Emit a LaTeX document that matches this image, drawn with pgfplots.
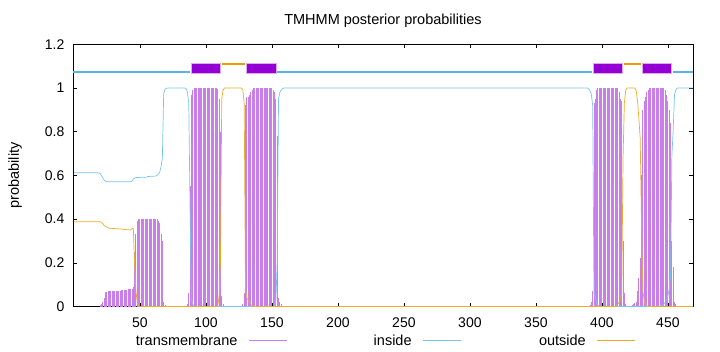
\documentclass[border=0pt]{standalone}
\usepackage{fontspec}
\setmainfont{Liberation Sans}
\usepackage{pgfplots}
\pgfplotsset{compat=1.18}
\definecolor{tmpurple}{HTML}{9400D3}
\definecolor{tmbar}{RGB}{202,126,234}
\definecolor{tmedge}{RGB}{222,170,242}
\definecolor{inblue}{HTML}{56B4E9}
\definecolor{inthin}{RGB}{120,196,238}
\definecolor{outorange}{HTML}{E69F00}
\definecolor{outthin}{RGB}{236,172,40}
\newcommand\fsz{\fontsize{14bp}{16bp}\selectfont}
\newcommand\fszt{\fontsize{14.5bp}{16bp}\selectfont}
\begin{document}
\begin{tikzpicture}
\begin{axis}[
  scale only axis, width=620bp, height=262.2bp,
  xmin=-0.7, xmax=469, ymin=0, ymax=1.2,
  xtick={50,100,...,450}, ytick={0,0.2,0.4,0.6,0.8,1,1.2},
  yticklabels={0,0.2,0.4,0.6,0.8,1,1.2},
  /pgf/number format/assume math mode=true,
  tick align=inside, major tick length=4bp,
  tick style={black, line width=0.5bp},
  axis line style={black, line width=0.8bp},
  every tick label/.append style={font=\fsz, inner sep=0pt},
  xticklabel style={anchor=base, yshift=-20.5bp},
  yticklabel style={anchor=east, xshift=-8.5bp},
  title={TMHMM posterior probabilities},
  every axis title/.style={at={(axis description cs:0.5,1.0755)}, anchor=base, font=\fszt},
  ylabel={probability},
  every axis y label/.style={at={(axis description cs:-0.0935,0.5)}, anchor=center, rotate=90, font=\fszt},
  legend image code/.code={\draw[#1] (0bp,0bp) -- (38bp,0bp);},
  legend style={at={(axis description cs:0.0955,-0.106)}, anchor=north west, draw=none, fill=none,
    inner sep=0pt, font=\fszt, legend columns=3,
    nodes={inner sep=0pt, text width=105bp, align=right},
    /tikz/every odd column/.append style={column sep=10.7bp},
    /tikz/every even column/.append style={column sep=19.7bp}},
  legend plot pos=right,
]
% transmembrane posterior (impulses)
\addplot[ycomb, tmbar, line width=1.0bp, forget plot] coordinates {
(20,0.005)(21,0.01)(22,0.02)(23,0.04)(24,0.065)(25,0.068)(26,0.07)(27,0.07)(28,0.07)(29,0.07)(30,0.07)
(31,0.072)(32,0.072)(33,0.072)(34,0.072)(35,0.073)(36,0.074)(37,0.075)(38,0.075)(39,0.075)(40,0.076)
(41,0.078)(42,0.079)(43,0.08)(44,0.078)(45,0.09)(46,0.25)(47,0.33)(48,0.39)(49,0.40)(50,0.40)
(51,0.40)(52,0.40)(53,0.40)(54,0.40)(55,0.40)(56,0.40)(57,0.40)(58,0.40)(59,0.40)(60,0.40)
(61,0.40)(62,0.40)(63,0.40)(64,0.39)(65,0.38)(66,0.33)(67,0.30)(68,0.02)(69,0.005)
(85,0.003)(86,0.01)(87,0.06)(88,0.55)(89,0.97)(90,0.99)
(91,1)(92,1)(93,1)(94,1)(95,1)(96,1)(97,1)(98,1)(99,1)(100,1)(101,1)(102,1)(103,1)(104,1)
(105,1)(106,1)(107,1)(108,1)(109,0.995)(110,0.95)(111,0.80)(112,0.05)(113,0.01)
(128,0.01)(129,0.06)(130,0.92)(131,0.96)(132,0.96)(133,0.97)(134,0.98)(135,0.99)
(136,1)(137,1)(138,1)(139,1)(140,1)(141,1)(142,1)(143,1)(144,1)(145,1)(146,1)(147,1)(148,1)
(149,1)(150,1)(151,0.99)(152,0.98)(153,0.95)(154,0.78)(155,0.04)(156,0.02)(157,0.01)
(391,0.005)(392,0.02)(393,0.07)(394,0.93)(395,0.95)(396,0.99)
(397,1)(398,1)(399,1)(400,1)(401,1)(402,1)(403,1)(404,1)(405,1)(406,1)(407,1)(408,1)(409,1)
(410,1)(411,1)(412,1)(413,0.98)(414,0.95)(415,0.94)(416,0.30)(417,0.06)(418,0.01)
(423,0.005)(424,0.01)(425,0.015)(426,0.02)(427,0.07)(428,0.13)(429,0.22)(430,0.60)(431,0.90)
(432,0.94)(433,0.96)(434,0.98)(435,0.99)(436,1)(437,1)(438,1)(439,1)(440,1)(441,1)(442,1)
(443,1)(444,1)(445,1)(446,1)(447,1)(448,0.99)(449,0.97)(450,0.94)(451,0.90)(452,0.84)
(453,0.30)(454,0.18)(455,0.02)(456,0.01)
};
% inside posterior
\addplot[inthin, line width=0.7bp, forget plot] coordinates {
(0,0.612)(18,0.612)(19,0.611)(20,0.607)(21,0.598)(22,0.587)(23,0.578)(24,0.573)(25,0.571)
(43,0.571)(44,0.574)(45,0.583)(46,0.588)(47,0.590)(55,0.592)(56,0.595)(62,0.597)(63,0.600)
(64,0.606)(65,0.615)(66,0.64)(67,0.68)(68,0.975)(69,0.993)(70,0.998)(71,1.0)(84,1.0)(85,0.997)
(86,0.98)(87,0.93)(88,0.44)(89,0.03)(90,0.01)(91,0.003)(92,0)(152,0)(153,0.03)(154,0.2)
(155,0.95)(156,0.98)(157,0.99)(158,0.997)(159,1.0)(389,1.0)(390,0.995)(391,0.988)(392,0.97)
(393,0.92)(394,0.06)(395,0.04)(396,0.015)(397,0.005)(398,0)(444,0)(445,0.005)(446,0.008)
(447,0.012)(448,0.02)(449,0.03)(450,0.05)(451,0.08)(452,0.14)(453,0.69)(454,0.81)(455,0.97)
(456,0.99)(457,1.0)(469,1.0)
};
% outside posterior
\addplot[outthin, line width=0.7bp, forget plot] coordinates {
(0,0.388)(20,0.388)(21,0.385)(22,0.378)(23,0.370)(24,0.366)(25,0.363)(27,0.358)(35,0.355)
(43,0.350)(44,0.356)(45,0.358)(46,0.19)(47,0.07)(48,0.015)(49,0.004)(50,0)(109,0)(110,0.05)
(111,0.2)(112,0.95)(113,0.99)(114,1.0)(127,1.0)(128,0.99)(129,0.93)(130,0.08)(131,0.04)
(132,0.03)(133,0.02)(134,0.01)(135,0.003)(136,0)(410,0)(411,0.003)(412,0.01)(413,0.02)
(414,0.035)(415,0.055)(416,0.68)(417,0.93)(418,0.99)(419,1.0)(425,1.0)(426,0.985)(427,0.94)
(428,0.86)(429,0.77)(430,0.38)(431,0.07)(432,0.03)(433,0.012)(434,0.004)(435,0)(469,0)
};
% topology: inside segments
\addplot[inblue, line width=2.8bp, forget plot] coordinates {(-0.7,1.073)(87.7,1.073)};
\addplot[inblue, line width=2.8bp, forget plot] coordinates {(154,1.073)(392.2,1.073)};
\addplot[inblue, line width=2.8bp, forget plot] coordinates {(454,1.073)(469,1.073)};
% topology: outside segments
\addplot[outorange, line width=2.4bp, forget plot] coordinates {(111.9,1.111)(129.5,1.111)};
\addplot[outorange, line width=2.4bp, forget plot] coordinates {(416.7,1.111)(429.6,1.111)};
% topology: transmembrane boxes
\addplot[fill=tmpurple, draw=tmedge, line width=0.7bp, forget plot] coordinates {(88.6,1.068)(110.8,1.068)(110.8,1.113)(88.6,1.113)} -- cycle;
\addplot[fill=tmpurple, draw=tmedge, line width=0.7bp, forget plot] coordinates {(130.8,1.068)(153,1.068)(153,1.113)(130.8,1.113)} -- cycle;
\addplot[fill=tmpurple, draw=tmedge, line width=0.7bp, forget plot] coordinates {(393.4,1.068)(415.7,1.068)(415.7,1.113)(393.4,1.113)} -- cycle;
\addplot[fill=tmpurple, draw=tmedge, line width=0.7bp, forget plot] coordinates {(430.5,1.068)(452.8,1.068)(452.8,1.113)(430.5,1.113)} -- cycle;
\addlegendimage{color=tmbar, line width=0.8bp}
\addlegendentry{transmembrane}
\addlegendimage{color=inthin, line width=0.8bp}
\addlegendentry{inside}
\addlegendimage{color=outthin, line width=0.8bp}
\addlegendentry{outside}
\end{axis}
\pgfresetboundingbox
\path[use as bounding box] (-73bp,-45.5bp) rectangle (647bp,306.5bp);
\end{tikzpicture}
\end{document}
